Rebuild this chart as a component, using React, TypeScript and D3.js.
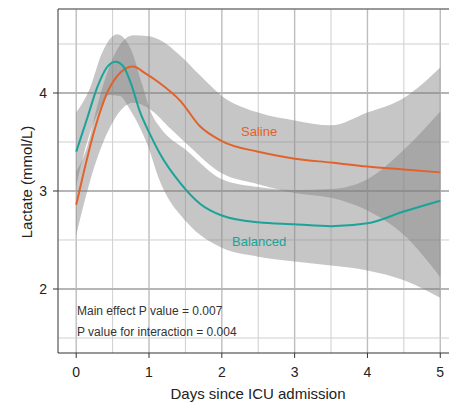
import React from "react";
import * as d3 from "d3";

// mean curves
const salineDays = [0, 0.1, 0.25, 0.47, 0.78, 0.95, 1.15, 1.43, 1.7, 2, 2.5, 3, 3.5, 4, 4.5, 5];
const salineMean = [2.86, 3.18, 3.62, 4.07, 4.27, 4.2, 4.1, 3.92, 3.66, 3.51, 3.4, 3.33, 3.29, 3.25, 3.22, 3.19];

const balancedDays = [0, 0.15, 0.29, 0.42, 0.54, 0.65, 0.75, 0.88, 1, 1.15, 1.43, 1.7, 2, 2.5, 3, 3.5, 4, 4.5, 5];
const balancedMean = [3.4, 3.74, 4.06, 4.26, 4.32, 4.27, 4.1, 3.8, 3.6, 3.38, 3.08, 2.87, 2.75, 2.68, 2.66, 2.64, 2.67, 2.79, 2.9];

// confidence bands
const salineUpperDays = [0, 0.15, 0.3, 0.5, 0.78, 1.0, 1.15, 1.43, 1.7, 2, 2.5, 3, 3.5, 4, 4.5, 5];
const salineUpper = [3.2, 3.45, 3.9, 4.35, 4.59, 4.58, 4.54, 4.38, 4.18, 3.97, 3.8, 3.72, 3.67, 3.8, 3.95, 4.26];
const salineLowerDays = [0, 0.25, 0.5, 0.78, 1.04, 1.29, 1.52, 2, 2.5, 3, 3.5, 4, 4.5, 5];
const salineLower = [2.55, 3.25, 3.7, 3.9, 3.82, 3.64, 3.48, 3.18, 3.07, 2.98, 2.93, 2.8, 2.55, 2.12];

const balancedUpperDays = [0, 0.19, 0.35, 0.56, 0.75, 0.9, 1.04, 1.15, 1.52, 2, 2.5, 3, 3.5, 4, 4.5, 5];
const balancedUpper = [3.8, 4.05, 4.4, 4.6, 4.45, 4.1, 3.78, 3.65, 3.41, 3.12, 3.04, 3.01, 3.02, 3.12, 3.42, 3.81];
const balancedLowerDays = [0, 0.15, 0.3, 0.45, 0.6, 0.74, 0.97, 1.15, 1.52, 2, 2.5, 3, 3.5, 4, 4.5, 5];
const balancedLower = [3.05, 3.5, 3.8, 3.98, 3.97, 3.83, 3.49, 3.1, 2.68, 2.42, 2.33, 2.28, 2.24, 2.19, 2.09, 1.91];

const xTicks = [0, 1, 2, 3, 4, 5];
const yTicks = [2, 3, 4];
const xGrid = [0, 0.5, 1, 1.5, 2, 2.5, 3, 3.5, 4, 4.5, 5];
const yGrid = [1.5, 2, 2.5, 3, 3.5, 4, 4.5];

const W = 456;
const H = 402;
const left = 58, right = 449, top = 9, bottom = 353;

const x = d3.scaleLinear().domain([-0.25, 5.12]).range([left, right]);
const y = d3.scaleLinear().domain([1.347, 4.857]).range([bottom, top]);

const line = d3
  .line<[number, number]>()
  .x(d => x(d[0]))
  .y(d => y(d[1]))
  .curve(d3.curveMonotoneX);

const zip = (days: number[], vals: number[]) => days.map((d, i) => [d, vals[i]] as [number, number]);

function bandPath(dU: number[], vU: number[], dL: number[], vL: number[]) {
  const up = line(zip(dU, vU)) || "";
  const lo = line(zip(dL, vL).reverse()) || "";
  return up + "L" + lo.slice(1) + "Z";
}

const font = "'Liberation Sans', Arial, sans-serif";
const orange = "#e2622b";
const teal = "#1ba39a";

export default function App() {
  return (
    <svg width={W} height={H} style={{ position: "absolute", left: 0, top: 0, background: "#fff" }} fontFamily={font}>
      <rect x={0} y={0} width={W} height={H} fill="#fff" />
      {xGrid.map(d => (
        <line key={"gx" + d} x1={x(d)} x2={x(d)} y1={top} y2={bottom}
          stroke={Number.isInteger(d) ? "#bdbdbd" : "#cfcfcf"} strokeWidth={Number.isInteger(d) ? 1.4 : 1} />
      ))}
      {yGrid.map(d => (
        <line key={"gy" + d} x1={left} x2={right} y1={y(d)} y2={y(d)}
          stroke={Number.isInteger(d) ? "#b5b5b5" : "#cfcfcf"} strokeWidth={Number.isInteger(d) ? 1.8 : 1} />
      ))}

      <path d={bandPath(salineUpperDays, salineUpper, salineLowerDays, salineLower)} fill="#808080" fillOpacity={0.45} />
      <path d={bandPath(balancedUpperDays, balancedUpper, balancedLowerDays, balancedLower)} fill="#808080" fillOpacity={0.45} />

      <path d={line(zip(salineDays, salineMean)) || ""} fill="none" stroke={orange} strokeWidth={2} />
      <path d={line(zip(balancedDays, balancedMean)) || ""} fill="none" stroke={teal} strokeWidth={2} />

      <line x1={left} x2={right} y1={top} y2={top} stroke="#777" strokeWidth={1.5} />
      <line x1={left} x2={left} y1={top} y2={bottom} stroke="#555" strokeWidth={1.2} />
      <line x1={left} x2={right} y1={bottom} y2={bottom} stroke="#333" strokeWidth={1.2} />

      {yTicks.map(t => (
        <g key={"yt" + t}>
          <line x1={left - 5} x2={left} y1={y(t)} y2={y(t)} stroke="#333" />
          <text x={47} y={y(t)} dy="0.35em" textAnchor="end" fontSize={14} fill="#222">{t}</text>
        </g>
      ))}
      {xTicks.map(t => (
        <g key={"xt" + t}>
          <line x1={x(t)} x2={x(t)} y1={bottom} y2={bottom + 5} stroke="#333" />
          <text x={x(t)} y={377} textAnchor="middle" fontSize={14} fill="#222">{t}</text>
        </g>
      ))}

      <text x={258} y={399} textAnchor="middle" fontSize={15} fill="#222">Days since ICU admission</text>
      <text transform={`translate(32,182) rotate(-90)`} textAnchor="middle" fontSize={15} fill="#222">Lactate (mmol/L)</text>

      <text x={241} y={136} fontSize={13} fill={orange}>Saline</text>
      <text x={232} y={246} fontSize={13} fill={teal}>Balanced</text>

      <text x={77} y={315} fontSize={12} fill="#333">Main effect P value = 0.007</text>
      <text x={77} y={336} fontSize={12} fill="#333">P value for interaction = 0.004</text>
    </svg>
  );
}
